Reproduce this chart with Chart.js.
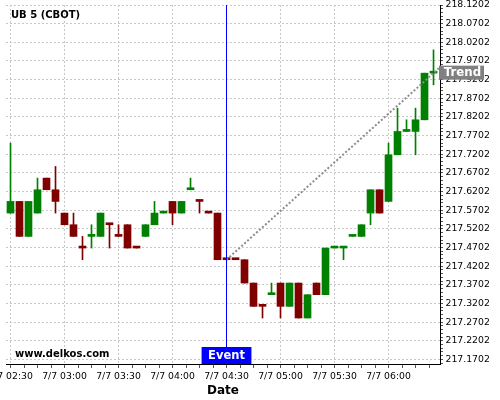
<!DOCTYPE html>
<html>
<head>
<meta charset="utf-8">
<script src="https://cdn.jsdelivr.net/npm/chart.js@4.4.0/dist/chart.umd.min.js"></script>
<style>
  html, body { margin: 0; padding: 0; background: #fff; }
  #wrap { width: 500px; height: 400px; }
</style>
</head>
<body>
<div id="wrap"><canvas id="chart" width="500" height="400"></canvas></div>
<script>
// UB 5 (CBOT), 5 minute candles from 7/7 02:30 to 06:25 (index 0..47)
const openPrices = [217.5625, 217.59375, 217.5, 217.5625, 217.65625, 217.625, 217.5625, 217.53125,
  217.46875, 217.5, 217.5, 217.53125, 217.5, 217.53125, 217.46875, 217.5,
  217.53125, 217.5625, 217.59375, 217.5625, 217.625, 217.59375, 217.5625, 217.5625,
  217.4375, 217.4375, 217.4375, 217.375, 217.3125, 217.34375, 217.375, 217.3125,
  217.375, 217.28125, 217.375, 217.34375, 217.46875, 217.46875, 217.5, 217.5,
  217.5625, 217.625, 217.59375, 217.71875, 217.78125, 217.78125, 217.8125, 217.9375];
const highPrices = [217.75, 217.59375, 217.59375, 217.65625, 217.65625, 217.6875, 217.5625, 217.5625,
  217.5, 217.53125, 217.5625, 217.53125, 217.53125, 217.53125, 217.46875, 217.53125,
  217.59375, 217.5625, 217.59375, 217.59375, 217.65625, 217.59375, 217.5625, 217.5625,
  217.4375, 217.4375, 217.4375, 217.375, 217.3125, 217.375, 217.375, 217.375,
  217.375, 217.34375, 217.375, 217.46875, 217.46875, 217.46875, 217.5, 217.53125,
  217.625, 217.625, 217.75, 217.84375, 217.8125, 217.84375, 217.9375, 218.0];
const lowPrices = [217.5625, 217.5, 217.5, 217.5625, 217.625, 217.5625, 217.53125, 217.5,
  217.4375, 217.46875, 217.5, 217.46875, 217.5, 217.46875, 217.46875, 217.5,
  217.53125, 217.5625, 217.53125, 217.5625, 217.625, 217.5625, 217.5625, 217.4375,
  217.4375, 217.4375, 217.375, 217.3125, 217.28125, 217.34375, 217.28125, 217.3125,
  217.28125, 217.28125, 217.34375, 217.34375, 217.46875, 217.4375, 217.5, 217.5,
  217.53125, 217.5625, 217.59375, 217.71875, 217.78125, 217.71875, 217.8125, 217.90625];
const closePrices = [217.59375, 217.5, 217.59375, 217.625, 217.625, 217.59375, 217.53125, 217.5,
  217.46875, 217.5, 217.5625, 217.53125, 217.5, 217.46875, 217.46875, 217.53125,
  217.5625, 217.5625, 217.5625, 217.59375, 217.625, 217.59375, 217.5625, 217.4375,
  217.4375, 217.4375, 217.375, 217.3125, 217.3125, 217.34375, 217.3125, 217.375,
  217.28125, 217.34375, 217.34375, 217.46875, 217.46875, 217.46875, 217.5, 217.53125,
  217.625, 217.5625, 217.71875, 217.78125, 217.78125, 217.8125, 217.9375, 217.9375];

// x tick labels, one every 6 candles (30 min)
const xTickLabels = ['7/7 02:30', '7/7 03:00', '7/7 03:30', '7/7 04:00',
  '7/7 04:30', '7/7 05:00', '7/7 05:30', '7/7 06:00'];
const yTickLabels = ['217.1702', '217.2202', '217.2702', '217.3202', '217.3702', '217.4202',
  '217.4702', '217.5202', '217.5702', '217.6202', '217.6702', '217.7202', '217.7702',
  '217.8202', '217.8702', '217.9202', '217.9702', '218.0202', '218.0702', '218.1202'];

const eventIndex = 24;
const trendX = [24, 47, 47.72];
const trendY = [217.4375, 217.9375, 217.9532];

const xMin = -0.5, xMax = 47.72;
const yMin = 217.158, yMax = 218.1202;

const GREEN = '#008000', RED = '#800000';
const FONT = 'DejaVu Sans';

// colour: close vs open, doji -> vs previous close, unchanged -> previous colour
const candleColors = [];
for (let i = 0; i < openPrices.length; i++) {
  let up;
  if (closePrices[i] !== openPrices[i]) up = closePrices[i] > openPrices[i];
  else if (i > 0 && closePrices[i] !== closePrices[i - 1]) up = closePrices[i] > closePrices[i - 1];
  else up = i > 0 ? candleColors[i - 1] === GREEN : true;
  candleColors.push(up ? GREEN : RED);
}

const bodies = openPrices.map((o, i) => ({x: i, y: [o, closePrices[i]]}));
const wicks = lowPrices.map((l, i) => ({x: i, y: [l, highPrices[i]]}));
const trendLine = trendX.map((x, i) => ({x: x, y: trendY[i]}));

const overlay = {
  id: 'overlay',
  afterDatasetsDraw(chart) {
    const {ctx, chartArea, scales: {x}} = chart;
    const ex = x.getPixelForValue(eventIndex);
    ctx.save();
    ctx.strokeStyle = '#0000ff';
    ctx.lineWidth = 1;
    ctx.beginPath();
    ctx.moveTo(ex, chartArea.top);
    ctx.lineTo(ex, chartArea.bottom);
    ctx.stroke();
    ctx.restore();
  },
  afterDraw(chart) {
    const {ctx, chartArea, scales: {x, y}} = chart;
    ctx.save();
    // title + watermark
    ctx.fillStyle = '#000';
    ctx.font = 'bold 10px "' + FONT + '"';
    ctx.textBaseline = 'middle';
    ctx.textAlign = 'left';
    ctx.fillText('UB 5 (CBOT)', 11, 15);
    ctx.fillText('www.delkos.com', 15, 354);

    // Event box
    ctx.font = 'bold 11.5px "' + FONT + '"';
    const ex = x.getPixelForValue(eventIndex);
    const ew = ctx.measureText('Event').width + 13;
    ctx.fillStyle = '#0000ff';
    ctx.fillRect(ex - ew / 2, chartArea.bottom - 17, ew, 17);
    ctx.fillStyle = '#fff';
    ctx.textAlign = 'center';
    ctx.fillText('Event', ex, chartArea.bottom - 8);

    // Trend box on the right axis
    const ty = y.getPixelForValue(trendY[1]);
    ctx.font = 'bold 11.8px "' + FONT + '"';
    const tw = 45;
    ctx.fillStyle = '#808080';
    ctx.fillRect(chartArea.right - 1, ty - 7.5, tw, 14);
    ctx.fillStyle = '#fff';
    ctx.fillText('Trend', chartArea.right - 1 + tw / 2 + 1, ty);
    ctx.restore();
  }
};

new Chart(document.getElementById('chart'), {
  type: 'bar',
  data: {
    datasets: [
      {
        type: 'line',
        data: trendLine,
        borderColor: '#8c8c8c',
        borderWidth: 2,
        borderDash: [2, 2],
        pointRadius: 0,
        order: 0
      },
      {
        data: bodies,
        backgroundColor: candleColors,
        borderWidth: 0,
        barThickness: 7,
        minBarLength: 2,
        grouped: false,
        order: 1
      },
      {
        data: wicks,
        backgroundColor: candleColors,
        borderWidth: 0,
        barThickness: 1,
        grouped: false,
        order: 2
      }
    ]
  },
  options: {
    responsive: false,
    animation: false,
    layout: { padding: { left: 6, top: 5, right: 0, bottom: 0 } },
    plugins: { legend: { display: false }, tooltip: { enabled: false }, title: { display: false } },
    scales: {
      x: {
        type: 'linear',
        min: xMin,
        max: xMax,
        offset: false,
        grid: {
          offset: false,
          color: ctx => (ctx.tick && ctx.tick.major) ? '#c8c8c8' : 'rgba(0,0,0,0)',
          tickColor: '#555',
          tickLength: 4
        },
        border: { display: true, color: '#000', width: 1, dash: [2, 2] },
        ticks: {
          autoSkip: false,
          maxRotation: 0,
          padding: 3,
          color: '#000',
          font: { family: FONT, size: 9.3 },
          callback: (v, i, ticks) => ticks[i].major ? xTickLabels[Math.round(ticks[i].value / 6)] : ''
        },
        afterBuildTicks: scale => {
          const t = [];
          for (let v = 0; v <= xMax; v += 1.5) t.push({value: v, major: v % 6 === 0});
          scale.ticks = t;
        },
        afterFit: scale => {
          scale.height = 36;
          scale.paddingLeft = 0;
          scale.paddingRight = 0;
        },
        title: {
          display: true,
          text: 'Date',
          color: '#000',
          font: { family: FONT, size: 12, weight: 'bold' },
          padding: { top: 0, bottom: 2 }
        }
      },
      y: {
        type: 'linear',
        position: 'right',
        min: yMin,
        max: yMax,
        beginAtZero: false,
        grid: {
          color: ctx => (ctx.tick && ctx.tick.txt) ? '#c8c8c8' : 'rgba(0,0,0,0)',
          tickColor: '#555',
          tickLength: 3
        },
        border: { display: true, color: '#000', width: 1, dash: [2, 2] },
        ticks: {
          autoSkip: false,
          padding: 2.5,
          color: '#000',
          font: { family: FONT, size: 9.3 },
          callback: (v, i, ticks) => ticks[i].txt || ''
        },
        afterBuildTicks: scale => {
          const t = [];
          yTickLabels.forEach((lab, j) => {
            const v = parseFloat(lab);
            t.push({value: v, txt: lab});
            if (j < yTickLabels.length - 1) {
              for (let m = 1; m < 5; m++) t.push({value: v + m * 0.01});
            }
          });
          for (let m = 1; parseFloat(yTickLabels[0]) - m * 0.01 >= yMin; m++) {
            t.push({value: parseFloat(yTickLabels[0]) - m * 0.01});
          }
          t.sort((a, b) => a.value - b.value);
          scale.ticks = t;
        },
        afterFit: scale => {
          scale.width = 60;
          scale.paddingTop = 0;
          scale.paddingBottom = 0;
        }
      }
    }
  },
  plugins: [overlay]
});
</script>
</body>
</html>
